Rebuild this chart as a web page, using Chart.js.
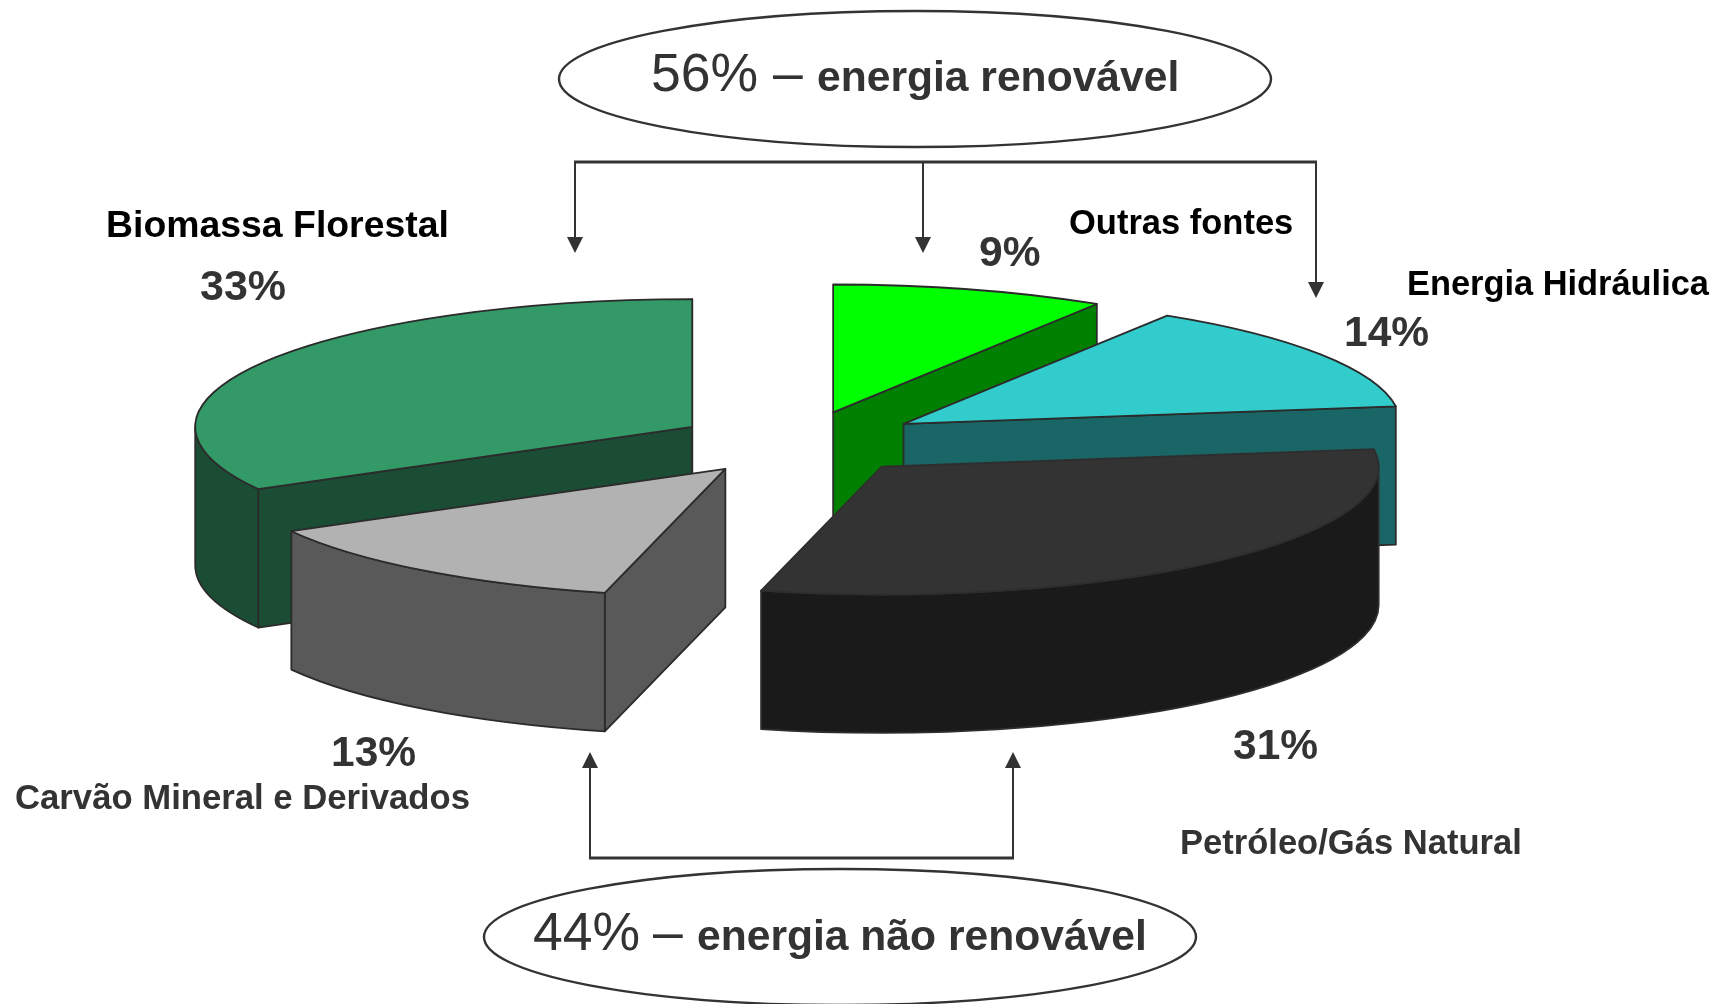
<!DOCTYPE html>
<html lang="pt">
<head>
<meta charset="utf-8">
<title>Matriz energética</title>
<script src="https://cdn.jsdelivr.net/npm/chart.js@4"></script>
<style>
html,body{margin:0;padding:0;background:#fff;overflow:hidden}
canvas{display:block}
</style>
</head>
<body>
<canvas id="c" width="1717" height="1004"></canvas>
<script>
// ---- data (clockwise, starting from the left edge of the large slice) ----
const categories = ['Biomassa Florestal', 'Outras fontes', 'Energia Hidráulica', 'Petróleo/Gás Natural', 'Carvão Mineral e Derivados'];
const shares = [33.1, 8.9, 13.9, 31.1, 13];

// ---- styles ----
const topColors  = ['#339966', '#00ff00', '#33cccc', '#333333', '#b2b2b2'];
const wallColors = ['#1a4d33', '#008000', '#1a6666', '#1a1a1a', '#595959'];
const outlineColors = ['#2b2b2b', '#2b2b2b', '#2b2b2b', '#2e2e2e', '#2b2b2b'];
const explodePx = [130.8, 102, 117.4, 114.7, 131];
const nudgeY = [1.9, -4.5, -1.7, 2.8, 0.2];
const FONT = '"Liberation Sans", Arial, sans-serif';
const TILT = 0.2571, DEPTH = 138.4, RADIUS = 497;

// ---- text placement: left x, baseline y, px size, colour ----
const categoryLabelStyle = [
  {x: 106,  y: 237, size: 37.4, color: '#000'},
  {x: 1069, y: 234, size: 34.5, color: '#000'},
  {x: 1407, y: 295, size: 34.4, color: '#000'},
  {x: 1180, y: 854, size: 34.55, color: '#333'},
  {x: 15,   y: 809, size: 34.7, color: '#333'}
];
const shareLabelStyle = [
  {x: 200,  y: 300, size: 43},
  {x: 979,  y: 266, size: 42.5},
  {x: 1344, y: 346, size: 42.5},
  {x: 1233, y: 759, size: 42.5},
  {x: 331,  y: 766, size: 42.5}
];
const calloutShares = ['56%', '44%'];
const calloutTexts = ['energia renovável', 'energia não renovável'];
const calloutStyle = [
  {cx: 915, cy: 79,  rx: 356, ry: 68, pctX: 651, dashX: 773, textX: 817, y: 91},
  {cx: 840, cy: 937, rx: 356, ry: 68, pctX: 533, dashX: 653, textX: 697, y: 950}
];
const connectorStyle = [
  {bar: [575, 1316], y: 162, dir: 1, drops: [[575, 253], [923, 253], [1316, 298]]},
  {bar: [590, 1013], y: 858, dir: -1, drops: [[590, 752], [1013, 752]]}
];

function drawArrow(ctx, x, y0, tip, dir) {
  ctx.lineWidth = 2;
  ctx.beginPath(); ctx.moveTo(x, y0); ctx.lineTo(x, tip - dir * 15); ctx.stroke();
  ctx.beginPath();
  ctx.moveTo(x, tip);
  ctx.lineTo(x - 8, tip - dir * 16);
  ctx.lineTo(x + 8, tip - dir * 16);
  ctx.closePath(); ctx.fill();
}

const pie3d = {
  id: 'pie3d',
  beforeDatasetDraw(chart, args) {
    const ctx = chart.ctx;
    args.meta.data.forEach((arc, i) => {
      const {x, y, startAngle: s, endAngle: e, outerRadius: R} = arc;
      const mid = (s + e) / 2;
      const px = x + Math.cos(mid) * explodePx[i];
      const py = y + Math.sin(mid) * explodePx[i] * TILT + nudgeY[i];
      const pt = a => [px + R * Math.cos(a), py + R * Math.sin(a) * TILT];
      ctx.save();
      ctx.lineJoin = 'round';
      ctx.lineWidth = 1.8;
      ctx.strokeStyle = outlineColors[i];
      ctx.fillStyle = wallColors[i];
      // radial walls that face the viewer
      [[s, Math.cos(s) < 0], [e, Math.cos(e) > 0]].forEach(([a, visible]) => {
        if (!visible) return;
        const [qx, qy] = pt(a);
        ctx.beginPath();
        ctx.moveTo(px, py); ctx.lineTo(qx, qy);
        ctx.lineTo(qx, qy + DEPTH); ctx.lineTo(px, py + DEPTH);
        ctx.closePath(); ctx.fill(); ctx.stroke();
      });
      // outer rim where it faces the viewer
      [-2 * Math.PI, 0, 2 * Math.PI].forEach(k => {
        const a0 = Math.max(s, k), a1 = Math.min(e, k + Math.PI);
        if (a1 <= a0) return;
        ctx.beginPath();
        ctx.ellipse(px, py, R, R * TILT, 0, a0, a1);
        ctx.ellipse(px, py + DEPTH, R, R * TILT, 0, a1, a0, true);
        ctx.closePath(); ctx.fill(); ctx.stroke();
      });
      // top face: the library's own arc under a tilted transform
      ctx.save();
      ctx.translate(px, py); ctx.scale(1, TILT); ctx.translate(-x, -y);
      arc.draw(ctx);
      ctx.restore();
      ctx.beginPath();
      ctx.moveTo(px, py);
      ctx.ellipse(px, py, R, R * TILT, 0, s, e);
      ctx.closePath(); ctx.stroke();
      ctx.restore();
    });
    return false;
  },
  afterDraw(chart) {
    const ctx = chart.ctx;
    ctx.save();
    ctx.textAlign = 'left';
    ctx.textBaseline = 'alphabetic';
    categories.forEach((name, i) => {
      const st = categoryLabelStyle[i];
      ctx.fillStyle = st.color;
      ctx.font = `bold ${st.size}px ${FONT}`;
      ctx.fillText(name, st.x, st.y);
      const sl = shareLabelStyle[i];
      ctx.fillStyle = '#333';
      ctx.font = `bold ${sl.size}px ${FONT}`;
      ctx.fillText(Math.round(shares[i]) + '%', sl.x, sl.y);
    });
    ctx.strokeStyle = '#333';
    ctx.fillStyle = '#333';
    connectorStyle.forEach(c => {
      c.drops.forEach(([x, tip]) => drawArrow(ctx, x, c.y, tip, c.dir));
      ctx.lineWidth = 3;
      ctx.beginPath(); ctx.moveTo(c.bar[0] - 1, c.y); ctx.lineTo(c.bar[1] + 1, c.y); ctx.stroke();
    });
    calloutStyle.forEach((c, i) => {
      ctx.lineWidth = 2.4;
      ctx.beginPath(); ctx.ellipse(c.cx, c.cy, c.rx, c.ry, 0, 0, 2 * Math.PI); ctx.stroke();
      ctx.font = `53.5px ${FONT}`;
      ctx.fillText(calloutShares[i], c.pctX, c.y);
      ctx.fillText('–', c.dashX, c.y);
      ctx.font = `bold 42.6px ${FONT}`;
      ctx.fillText(calloutTexts[i], c.textX, c.y);
    });
    ctx.restore();
  }
};

new Chart(document.getElementById('c'), {
  type: 'pie',
  data: {
    labels: categories,
    datasets: [{data: shares, backgroundColor: topColors, borderWidth: 0, clip: false}]
  },
  options: {
    responsive: false,
    animation: false,
    devicePixelRatio: 1,
    rotation: -119.16,
    radius: RADIUS,
    layout: {padding: {right: 107, bottom: 120}},
    events: [],
    plugins: {legend: {display: false}, tooltip: {enabled: false}, title: {display: false}}
  },
  plugins: [pie3d]
});
</script>
</body>
</html>
